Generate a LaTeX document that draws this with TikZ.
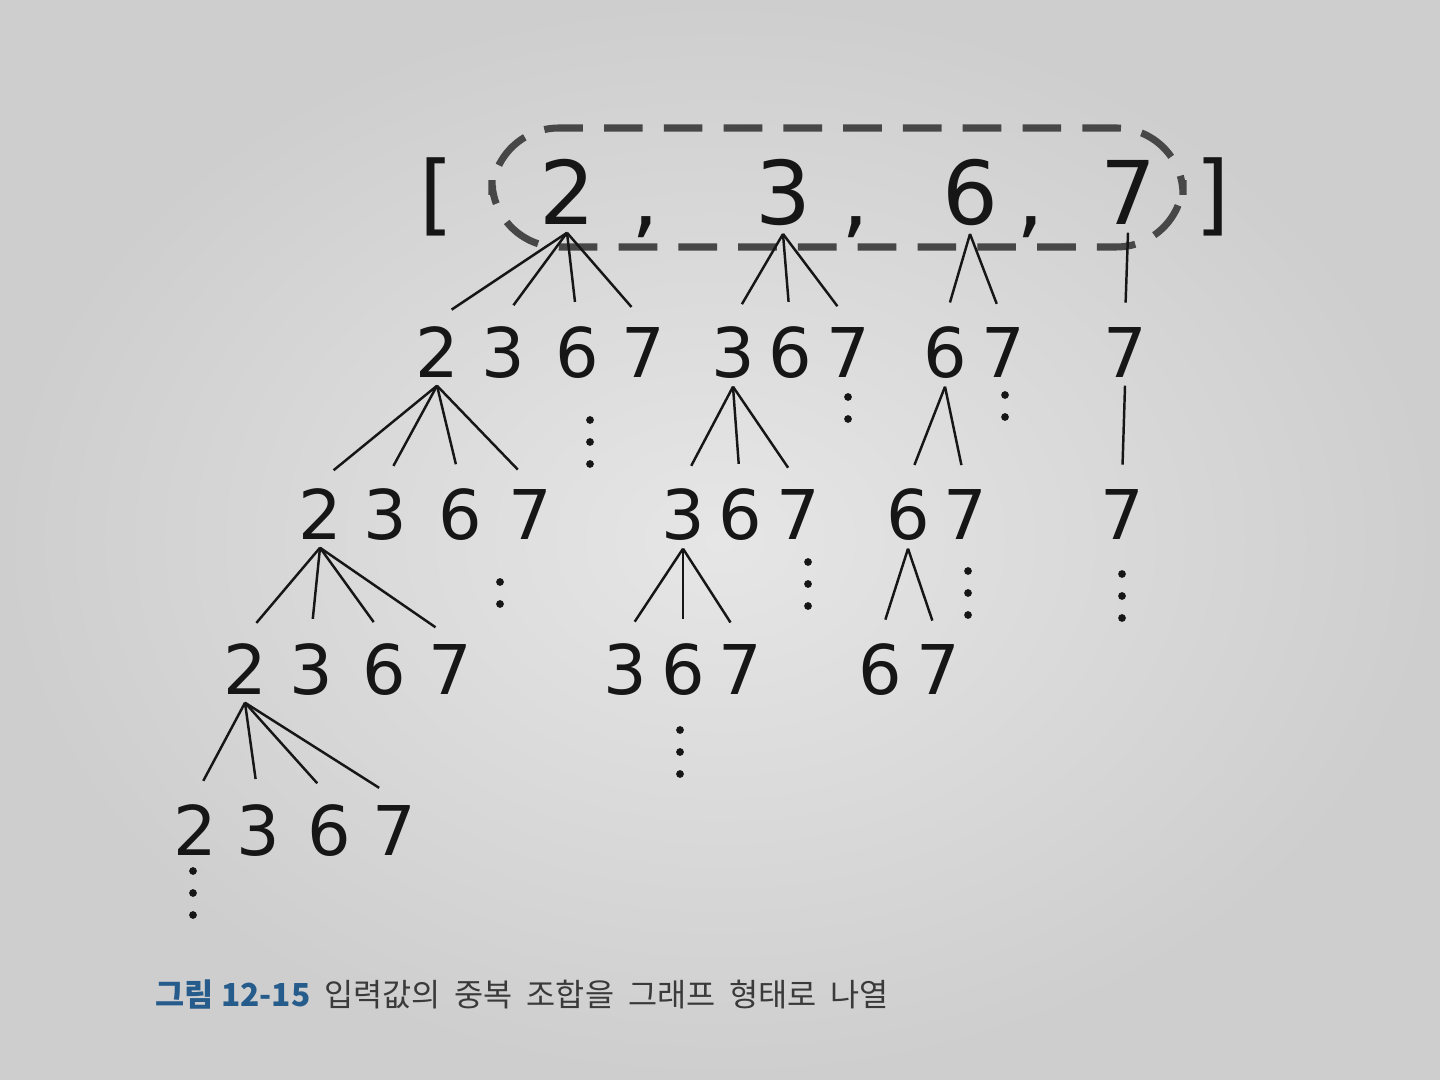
\documentclass[tikz,border=0pt]{standalone}
\usepackage{fontspec}
\setmainfont{DejaVu Sans}
\newfontfamily\krfont{Noto Sans CJK KR}
\usepackage{tikz}

\definecolor{paperlight}{RGB}{230,230,230}
\definecolor{paperdark}{RGB}{206,206,206}
\definecolor{ink}{RGB}{22,22,22}
\definecolor{capblue}{RGB}{38,92,140}
\definecolor{capgray}{RGB}{58,58,58}

\tikzset{
  num/.style={anchor=base, inner sep=2pt, text=ink, font=\fontsize{19.5}{20}\selectfont},
  topnum/.style={num, font=\fontsize{25}{26}\selectfont},
  branch/.style={draw=ink, line width=0.7pt, shorten >=5pt},
  listbox/.style={draw=black!72, line width=2pt, dash pattern=on 11pt off 6pt, rounded corners=19pt},
}
\newcommand\capgap{\hspace{0.44em}}

\begin{document}
\begin{tikzpicture}[x=0.01cm, y=-0.01cm]
      \shade[inner color=paperlight, outer color=paperdark] (0,0) rectangle (1440,1080);
      \useasboundingbox (0,0) rectangle (1440,1080);

      % input list
      \node[topnum] (lb) at (437,225) {[};
      \node[topnum] (t2) at (567,225) {2};
      \node[topnum] (k1) at (645,228) {,};
      \node[topnum] (t3) at (783,225) {3};
      \node[topnum] (k2) at (855,228) {,};
      \node[topnum] (t6) at (970,225) {6};
      \node[topnum] (k3) at (1030,228) {,};
      \node[topnum] (t7) at (1128,225) {7};
      \node[topnum] (rb) at (1213,225) {]};
      \draw[listbox] (492,128) rectangle (1183,247);

      % level 1
      \foreach \n/\x in {2/437, 3/503, 6/577, 7/643} \node[num] (a\n) at (\x,378) {\n};
      \foreach \n/\x in {3/733, 6/790, 7/848} \node[num] (b\n) at (\x,378) {\n};
      \foreach \n/\x in {6/945, 7/1003} \node[num] (c\n) at (\x,378) {\n};
      \node[num] (d7) at (1125,378) {7};

      % level 2
      \foreach \n/\x in {2/320, 3/385, 6/460, 7/530} \node[num] (aa\n) at (\x,540) {\n};
      \foreach \n/\x in {3/683, 6/740, 7/798} \node[num] (bb\n) at (\x,540) {\n};
      \foreach \n/\x in {6/908, 7/965} \node[num] (cc\n) at (\x,540) {\n};
      \node[num] (dd7) at (1122,540) {7};

      % level 3
      \foreach \n/\x in {2/245, 3/311, 6/384, 7/450} \node[num] (aaa\n) at (\x,695) {\n};
      \foreach \n/\x in {3/625, 6/683, 7/740} \node[num] (bbb\n) at (\x,695) {\n};
      \foreach \n/\x in {6/880, 7/938} \node[num] (ccc\n) at (\x,695) {\n};

      % level 4
      \foreach \n/\x in {2/195, 3/258, 6/329, 7/394} \node[num] (aaaa\n) at (\x,855) {\n};

      % branches
      \foreach \c in {a2, a3, a6, a7} \draw[branch] (t2.south) -- (\c.north);
      \foreach \c in {b3, b6, b7} \draw[branch] (t3.south) -- (\c.north);
      \foreach \c in {c6, c7} \draw[branch] (t6.south) -- (\c.north);
      \draw[branch] (t7.south) -- (d7.north);
      \foreach \c in {aa2, aa3, aa6, aa7} \draw[branch] (a2.south) -- (\c.north);
      \foreach \c in {bb3, bb6, bb7} \draw[branch] (b3.south) -- (\c.north);
      \foreach \c in {cc6, cc7} \draw[branch] (c6.south) -- (\c.north);
      \draw[branch] (d7.south) -- (dd7.north);
      \foreach \c in {aaa2, aaa3, aaa6, aaa7} \draw[branch] (aa2.south) -- (\c.north);
      \foreach \c in {bbb3, bbb6, bbb7} \draw[branch] (bb3.south) -- (\c.north);
      \foreach \c in {ccc6, ccc7} \draw[branch] (cc6.south) -- (\c.north);
      \foreach \c in {aaaa2, aaaa3, aaaa6, aaaa7} \draw[branch] (aaa2.south) -- (\c.north);

      % continuation dots
      \foreach \x/\y/\n in {590/420/3, 848/397/2, 1005/395/2, 500/582/2, 808/562/3,
                            968/571/3, 1122/574/3, 193/871/3, 680/730/3}
        \foreach \k in {1,...,\n} \fill[ink] (\x,\y+\k*22-22) circle (1.1pt);

      \node[anchor=base west, inner sep=0pt, font=\krfont\fontsize{9}{11}\selectfont] (caption) at (155,1006)
        {\textcolor{capblue}{\bfseries 그림 12-15}\capgap\textcolor{capgray}{입력값의\capgap 중복\capgap 조합을\capgap 그래프\capgap 형태로\capgap 나열}};
    \end{tikzpicture}
\end{document}
